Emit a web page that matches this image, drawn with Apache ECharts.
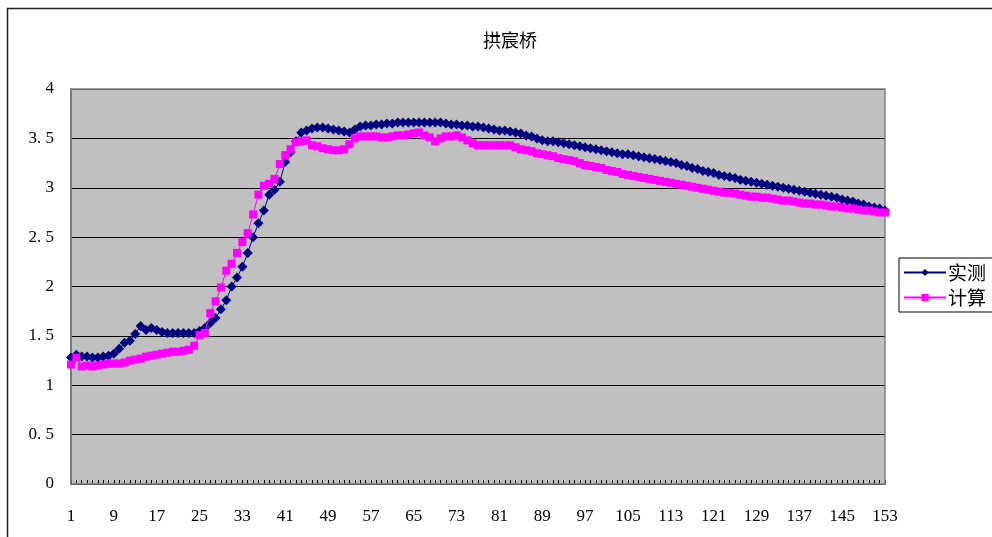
<!DOCTYPE html>
<html><head><meta charset="utf-8">
<script src="https://cdn.jsdelivr.net/npm/echarts@6/dist/echarts.min.js"></script>
<style>html,body{margin:0;padding:0;background:#fff}#c{width:992px;height:537px}</style>
</head><body><div id="c"></div>
<script>
const titleText = '拱宸桥';
const seriesNames = ['实测', '计算'];
const yTicks = [0, 0.5, 1, 1.5, 2, 2.5, 3, 3.5, 4];
const measured = [
1.28,1.31,1.29,1.29,1.28,1.28,1.29,1.30,1.32,1.37,1.43,1.45,1.52,1.60,1.56,1.58,1.56,1.54,1.53,1.53,1.53,1.53,1.53,1.53,1.55,
1.58,1.63,1.68,1.77,1.86,2.00,2.09,2.20,2.34,2.50,2.64,2.77,2.93,2.98,3.06,3.26,3.36,3.47,3.56,3.58,
3.60,3.61,3.61,3.60,3.59,3.58,3.57,3.56,3.59,3.62,
3.63,3.63,3.64,3.64,3.65,3.65,3.66,3.66,3.66,3.66,
3.66,3.66,3.66,3.66,3.66,3.65,3.64,3.64,3.63,3.63,
3.62,3.62,3.61,3.60,3.59,3.58,3.58,3.57,3.56,3.55,
3.53,3.52,3.50,3.48,3.47,3.47,3.46,3.45,3.44,3.43,
3.42,3.41,3.40,3.39,3.38,3.37,3.36,3.35,3.34,3.34,
3.33,3.32,3.31,3.30,3.29,3.28,3.27,3.26,3.25,3.23,
3.22,3.20,3.19,3.17,3.16,3.15,3.13,3.12,3.11,3.10,
3.08,3.07,3.06,3.05,3.04,3.03,3.02,3.01,3.00,2.99,
2.98,2.97,2.96,2.95,2.94,2.93,2.92,2.91,2.90,2.88,
2.87,2.86,2.84,2.83,2.81,2.80,2.79,2.77
];
const computed = [
1.21,1.28,1.19,1.20,1.19,1.20,1.21,1.22,1.22,1.22,1.23,1.25,1.26,1.27,1.29,1.30,1.31,1.32,1.33,1.34,1.34,1.35,1.36,1.40,1.51,
1.53,1.73,1.85,1.99,2.16,2.23,2.34,2.45,2.54,2.73,2.93,3.02,3.04,3.09,3.24,3.33,3.39,3.46,3.47,3.48,
3.43,3.42,3.40,3.39,3.38,3.38,3.39,3.44,3.50,3.52,
3.52,3.52,3.52,3.51,3.51,3.52,3.53,3.53,3.54,3.55,
3.56,3.53,3.51,3.47,3.50,3.52,3.52,3.53,3.51,3.48,
3.45,3.43,3.43,3.43,3.43,3.43,3.43,3.43,3.41,3.39,
3.38,3.37,3.35,3.34,3.33,3.32,3.30,3.29,3.28,3.27,
3.25,3.23,3.22,3.21,3.20,3.18,3.17,3.16,3.14,3.13,
3.12,3.11,3.10,3.09,3.08,3.07,3.06,3.05,3.04,3.03,
3.02,3.01,3.00,2.99,2.98,2.97,2.96,2.95,2.95,2.94,
2.93,2.92,2.91,2.91,2.90,2.90,2.89,2.88,2.87,2.87,
2.86,2.85,2.84,2.84,2.83,2.83,2.82,2.81,2.81,2.80,
2.79,2.79,2.78,2.77,2.77,2.76,2.75,2.75
];
const categories = measured.map((_, i) => String(i + 1));

const chart = echarts.init(document.getElementById('c'));
const serif = '"Liberation Serif","DejaVu Serif",serif';
const cjk = '"Noto Sans CJK SC","Liberation Serif",serif';
chart.setOption({
  animation: false,
  backgroundColor: '#fff',
  title: { text: titleText, left: 505, top: 26, textAlign: 'center',
    textStyle: { fontFamily: cjk, fontSize: 18, fontWeight: 'normal', color: '#000' } },
  graphic: [{ type: 'rect', shape: { x: 7.5, y: 8.5, width: 1000, height: 540 },
    style: { fill: 'none', stroke: '#222', lineWidth: 1.5 }, silent: true, z: 100 },
    { type: 'rect', shape: { x: 71, y: 89, width: 814, height: 395 },
    style: { fill: 'none', stroke: '#808080', lineWidth: 1.5 }, silent: true, z: 1 }],
  legend: {
    orient: 'vertical', left: 899, top: 258,
    data: seriesNames,
    borderColor: '#000', borderWidth: 1, padding: [5, 20, 5, 4],
    itemWidth: 42, itemHeight: 9, itemGap: 6,
    textStyle: { fontFamily: cjk, fontSize: 19, color: '#000', padding: [0, 0, 0, -3] }
  },
  grid: { left: 71, top: 89, right: 107, bottom: 53, show: true, backgroundColor: '#C0C0C0', borderWidth: 0 },
  xAxis: {
    type: 'category', data: categories, boundaryGap: false,
    axisLine: { lineStyle: { color: '#000', width: 1 } },
    axisTick: { show: true, inside: true, interval: 0, length: 4, lineStyle: { color: '#000' } },
    axisLabel: { interval: 7, fontFamily: serif, fontSize: 17, color: '#000', margin: 24 },
    splitLine: { show: false }
  },
  yAxis: {
    type: 'value', min: yTicks[0], max: yTicks[yTicks.length - 1], interval: 0.5,
    axisLine: { show: true, lineStyle: { color: '#404040', width: 1.5 } },
    axisTick: { show: false },
    axisLabel: { fontFamily: serif, fontSize: 17, color: '#000', margin: 17,
      formatter: v => String(v).replace('.', '. ') },
    splitLine: { lineStyle: { color: '#000', width: 1 } }
  },
  series: [
    { name: seriesNames[0], type: 'line', data: measured, symbol: 'diamond', symbolSize: 10,
      showAllSymbol: true,
      itemStyle: { color: '#000080' }, lineStyle: { color: '#000080', width: 1 }, z: 3 },
    { name: seriesNames[1], type: 'line', data: computed, symbol: 'rect', symbolSize: 8,
      showAllSymbol: true,
      itemStyle: { color: '#FF00FF' }, lineStyle: { color: '#FF00FF', width: 1 }, z: 4 }
  ]
});
</script></body></html>
